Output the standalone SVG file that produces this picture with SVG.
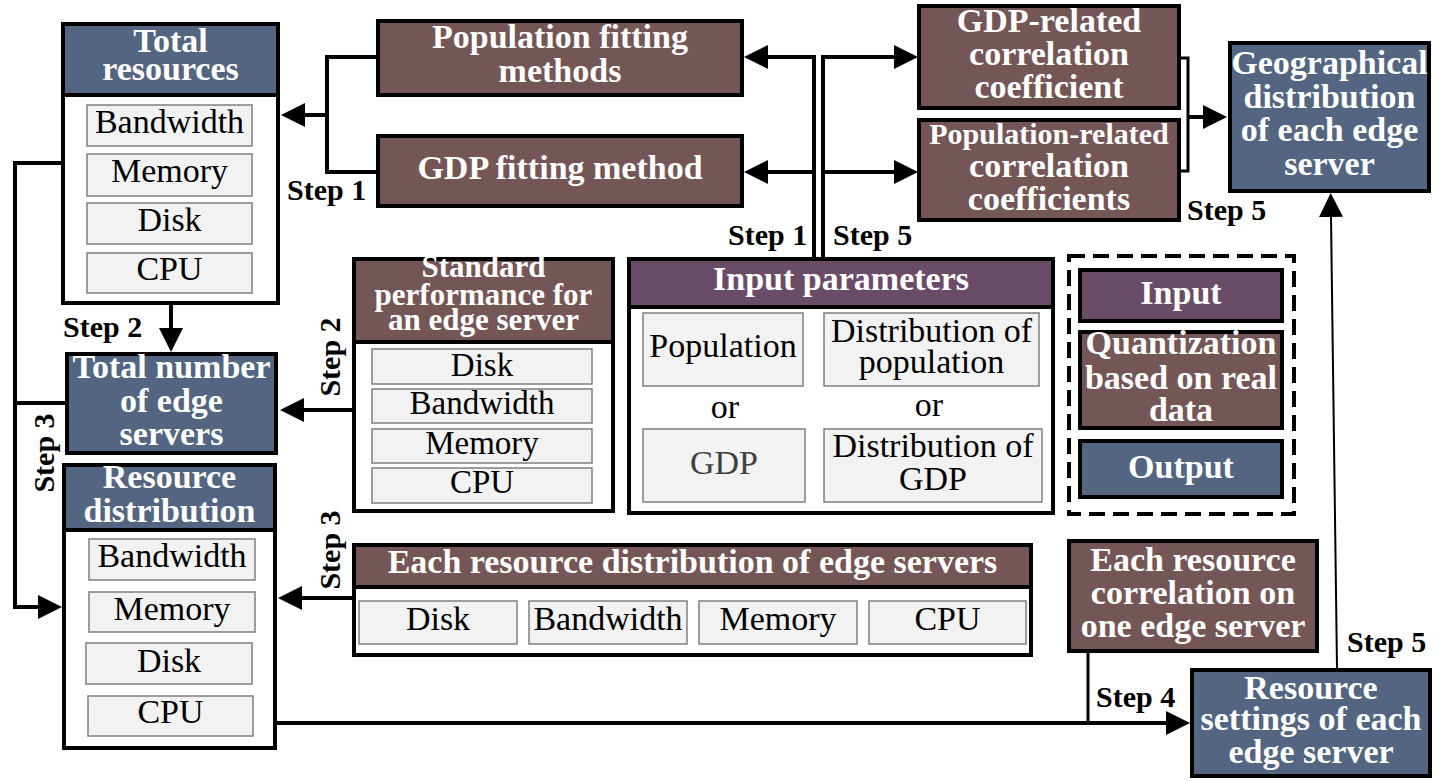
<svg xmlns="http://www.w3.org/2000/svg" width="1441" height="781" viewBox="0 0 1441 781">
<style>
text{font-family:"Liberation Serif","Times New Roman",serif;text-anchor:middle}
.t{font-weight:bold;font-size:34px;fill:#fff}
.i{font-size:34px;fill:#000}
.s{font-weight:bold;font-size:30px;fill:#000;text-anchor:start}
.sr{font-weight:bold;font-size:30px;fill:#000}
.box{fill:#fff;stroke:#000;stroke-width:4}
.blue{fill:#536580;stroke:#000;stroke-width:4}
.brown{fill:#745656;stroke:#000;stroke-width:4}
.purple{fill:#6A4C69;stroke:#000;stroke-width:4}
.item{fill:#F2F2F2;stroke:#7F7F7F;stroke-width:1.5}
.c{fill:none;stroke:#000;stroke-width:4}
.a{marker-end:url(#ah)}
</style>
<defs>
<marker id="ah" markerUnits="userSpaceOnUse" markerWidth="24" markerHeight="24" viewBox="0 0 24 24" refX="0" refY="12" orient="auto">
<path d="M0,0 L24,12 L0,24 z" fill="#000"/>
</marker>
</defs>

<g id="connectors">
<path class="c" d="M376,57 H327 V172 H376"/>
<path class="c a" d="M327,115 H305"/>
<path class="c a" d="M814,257 V57 H768"/>
<path class="c a" d="M814,172 H768"/>
<path class="c a" d="M823,257 V57 H894"/>
<path class="c a" d="M823,172 H894"/>
<path class="c" style="stroke-width:3" d="M1181,58 H1188 V171 H1181"/>
<path class="c a" d="M1188,117 H1203"/>
<path class="c a" style="stroke-width:2" d="M1337,668 L1331,217"/>
<path class="c a" d="M171,305 V328"/>
<path class="c a" d="M352,410 H304"/>
<path class="c a" d="M61,163 H15 V607 H38"/>
<path class="c" d="M65,403 H15"/>
<path class="c a" d="M352,598 H302"/>
<path class="c a" d="M277,723 H1166"/>
<path class="c" style="stroke-width:3" d="M1088,653 V723"/>
</g>

<g id="step-labels">
<text class="s" x="287" y="200">Step 1</text>
<text class="s" x="728" y="245">Step 1</text>
<text class="s" x="833" y="245">Step 5</text>
<text class="s" x="1187" y="220">Step 5</text>
<text class="s" x="63" y="337">Step 2</text>
<text class="s" x="1096" y="707">Step 4</text>
<text class="s" x="1347" y="652">Step 5</text>
<text class="sr" transform="translate(340,357) rotate(-90)">Step 2</text>
<text class="sr" transform="translate(340,550) rotate(-90)">Step 3</text>
<text class="sr" transform="translate(54,453) rotate(-90)">Step 3</text>
</g>

<g id="total-resources">
<rect class="box" x="63" y="24" width="215" height="279"/>
<rect class="blue" x="63" y="24" width="215" height="71"/>
<text class="t" x="170.5" y="52">Total</text>
<text class="t" x="170.5" y="80">resources</text>
<rect class="item" x="87" y="105" width="165" height="41"/><text class="i" x="169.5" y="133">Bandwidth</text>
<rect class="item" x="87" y="154" width="165" height="42"/><text class="i" x="169.5" y="182">Memory</text>
<rect class="item" x="87" y="203" width="165" height="41"/><text class="i" x="169.5" y="231">Disk</text>
<rect class="item" x="87" y="253" width="165" height="40"/><text class="i" x="169.5" y="280">CPU</text>
</g>

<g id="population-fitting">
<rect class="brown" x="378" y="21" width="364" height="74"/>
<text class="t" x="560" y="48">Population fitting</text>
<text class="t" x="560" y="82">methods</text>
</g>

<g id="gdp-fitting">
<rect class="brown" x="378" y="136" width="364" height="70"/>
<text class="t" x="560" y="179">GDP fitting method</text>
</g>

<g id="gdp-related">
<rect class="brown" x="919" y="6" width="260" height="102"/>
<text class="t" x="1049" y="32">GDP-related</text>
<text class="t" x="1049" y="65">correlation</text>
<text class="t" x="1049" y="98">coefficient</text>
</g>

<g id="population-related">
<rect class="brown" x="919" y="120" width="260" height="100"/>
<text class="t" style="font-size:30px" x="1049" y="144">Population-related</text>
<text class="t" x="1049" y="177">correlation</text>
<text class="t" x="1049" y="210">coefficients</text>
</g>

<g id="geographical-distribution">
<rect class="blue" x="1230" y="43" width="199" height="148"/>
<text class="t" x="1329.5" y="74">Geographical</text>
<text class="t" x="1329.5" y="108">distribution</text>
<text class="t" x="1329.5" y="141">of each edge</text>
<text class="t" x="1329.5" y="175">server</text>
</g>

<g id="standard-performance">
<rect class="box" x="354" y="259" width="259" height="252"/>
<rect class="brown" x="354" y="259" width="259" height="83"/>
<text class="t" style="font-size:31px" x="483.5" y="277">Standard</text>
<text class="t" style="font-size:31px" x="483.5" y="305">performance for</text>
<text class="t" style="font-size:31px" x="483.5" y="330">an edge server</text>
<rect class="item" x="372" y="349" width="220" height="35"/><text class="i" style="font-size:33px" x="482" y="376">Disk</text>
<rect class="item" x="372" y="389" width="220" height="34"/><text class="i" style="font-size:33px" x="482" y="414">Bandwidth</text>
<rect class="item" x="372" y="429" width="220" height="34"/><text class="i" style="font-size:33px" x="482" y="454">Memory</text>
<rect class="item" x="372" y="468" width="220" height="35"/><text class="i" style="font-size:33px" x="482" y="493">CPU</text>
</g>

<g id="input-parameters">
<rect class="box" x="629" y="259" width="424" height="254"/>
<rect class="purple" x="629" y="259" width="424" height="48"/>
<text class="t" x="841" y="290">Input parameters</text>
<rect class="item" x="643" y="313" width="160" height="73"/><text class="i" x="723" y="357">Population</text>
<rect class="item" x="824" y="313" width="215" height="73"/><text class="i" x="931.5" y="342">Distribution of</text><text class="i" x="931.5" y="373">population</text>
<text class="i" x="725" y="418">or</text>
<text class="i" x="929" y="416">or</text>
<rect class="item" x="643" y="429" width="162" height="73"/><text class="i" style="fill:#404040" x="724" y="474">GDP</text>
<rect class="item" x="824" y="429" width="218" height="73"/><text class="i" x="933" y="457">Distribution of</text><text class="i" x="933" y="490">GDP</text>
</g>

<g id="total-number">
<rect class="blue" x="67" y="354" width="209" height="99"/>
<text class="t" x="171.5" y="378">Total number</text>
<text class="t" x="171.5" y="412">of edge</text>
<text class="t" x="171.5" y="445">servers</text>
</g>

<g id="resource-distribution">
<rect class="box" x="64" y="465" width="211" height="283"/>
<rect class="blue" x="64" y="465" width="211" height="65"/>
<text class="t" x="169.5" y="488">Resource</text>
<text class="t" x="169.5" y="522">distribution</text>
<rect class="item" x="89" y="539" width="166" height="41"/><text class="i" x="172" y="567">Bandwidth</text>
<rect class="item" x="89" y="592" width="166" height="40"/><text class="i" x="172" y="620">Memory</text>
<rect class="item" x="86" y="643" width="166" height="41"/><text class="i" x="169" y="672">Disk</text>
<rect class="item" x="88" y="696" width="165" height="40"/><text class="i" x="170.5" y="723">CPU</text>
</g>

<g id="each-resource-distribution">
<rect class="box" x="354" y="545" width="677" height="110"/>
<rect class="brown" x="354" y="545" width="677" height="42"/>
<text class="t" x="692.5" y="573">Each resource distribution of edge servers</text>
<rect class="item" x="359" y="601" width="158" height="43"/><text class="i" x="438" y="630">Disk</text>
<rect class="item" x="529" y="601" width="158" height="43"/><text class="i" x="608" y="630">Bandwidth</text>
<rect class="item" x="699" y="601" width="158" height="43"/><text class="i" x="778" y="630">Memory</text>
<rect class="item" x="869" y="601" width="157" height="43"/><text class="i" x="947.5" y="630">CPU</text>
</g>

<g id="legend">
<rect x="1069" y="256" width="225" height="258" fill="none" stroke="#000" stroke-width="4" stroke-dasharray="16 8"/>
<g id="legend-input">
<rect class="purple" x="1080" y="270" width="202" height="51"/>
<text class="t" x="1181" y="304">Input</text>
</g>
<g id="legend-quantization">
<rect class="brown" x="1080" y="332" width="202" height="96"/>
<text class="t" x="1181" y="354">Quantization</text>
<text class="t" x="1181" y="389">based on real</text>
<text class="t" x="1181" y="421">data</text>
</g>
<g id="legend-output">
<rect class="blue" x="1080" y="441" width="202" height="56"/>
<text class="t" x="1181" y="478">Output</text>
</g>
</g>

<g id="each-resource-correlation">
<rect class="brown" x="1069" y="541" width="248" height="110"/>
<text class="t" x="1193" y="571">Each resource</text>
<text class="t" x="1193" y="604">correlation on</text>
<text class="t" x="1193" y="637">one edge server</text>
</g>

<g id="resource-settings">
<rect class="blue" x="1192" y="670" width="238" height="106"/>
<text class="t" x="1311" y="699">Resource</text>
<text class="t" x="1311" y="730">settings of each</text>
<text class="t" x="1311" y="763">edge server</text>
</g>
</svg>
